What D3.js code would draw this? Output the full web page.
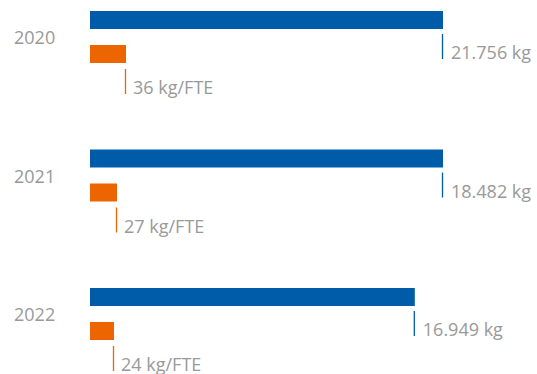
<!DOCTYPE html>
<html>
<head>
<meta charset="utf-8">
<script src="https://cdn.jsdelivr.net/npm/d3@7/dist/d3.min.js"></script>
<style>
  html, body { margin: 0; padding: 0; background: #fff; }
  svg { display: block; }
  text { font-family: "Open Sans", sans-serif; font-size: 18px; fill: #999999; }
</style>
</head>
<body>
<svg id="chart" width="537" height="374"></svg>
<script>
const years = ["2020", "2021", "2022"];
const totalKg = [21756, 18482, 16949];
const totalLabels = ["21.756 kg", "18.482 kg", "16.949 kg"];
const perFte = [36, 27, 24];
const perFteLabels = ["36 kg/FTE", "27 kg/FTE", "24 kg/FTE"];

const blue = "#005ca8";
const orange = "#ec6500";

const svg = d3.select("#chart");
const x0 = 90;

const y = d3.scaleBand().domain(years).range([11, 11 + 3 * 138.5]).paddingInner(0).paddingOuter(0);
const xBlue = d3.scaleLinear().domain([0, 18420]).range([0, 353]).clamp(true);
const xOrange = d3.scaleLinear().domain([0, 36]).range([0, 36]);

const data = years.map((yr, i) => ({
  year: yr, kg: totalKg[i], kgLabel: totalLabels[i], fte: perFte[i], fteLabel: perFteLabels[i]
}));

const g = svg.selectAll("g.grp").data(data).enter().append("g")
  .attr("class", "grp")
  .attr("transform", d => `translate(0,${y(d.year)})`);

g.append("text")
  .attr("x", 14).attr("y", 33)
  .text(d => d.year);

g.append("rect")
  .attr("x", x0).attr("y", 0)
  .attr("width", d => xBlue(d.kg)).attr("height", 18)
  .attr("fill", blue);

g.append("rect")
  .attr("x", x0).attr("y", 34)
  .attr("width", d => xOrange(d.fte)).attr("height", 18)
  .attr("fill", orange);

g.append("line")
  .attr("x1", d => x0 + xBlue(d.kg) - 0.5).attr("x2", d => x0 + xBlue(d.kg) - 0.5)
  .attr("y1", 23).attr("y2", 48)
  .attr("stroke", blue).attr("stroke-width", 1.3);

g.append("text")
  .attr("x", d => x0 + xBlue(d.kg) + 8).attr("y", 48)
  .text(d => d.kgLabel);

g.append("line")
  .attr("x1", d => x0 + xOrange(d.fte) - 0.5).attr("x2", d => x0 + xOrange(d.fte) - 0.5)
  .attr("y1", 58).attr("y2", 83)
  .attr("stroke", orange).attr("stroke-width", 1.3);

g.append("text")
  .attr("x", d => x0 + xOrange(d.fte) + 7).attr("y", 83)
  .text(d => d.fteLabel);
</script>
</body>
</html>
